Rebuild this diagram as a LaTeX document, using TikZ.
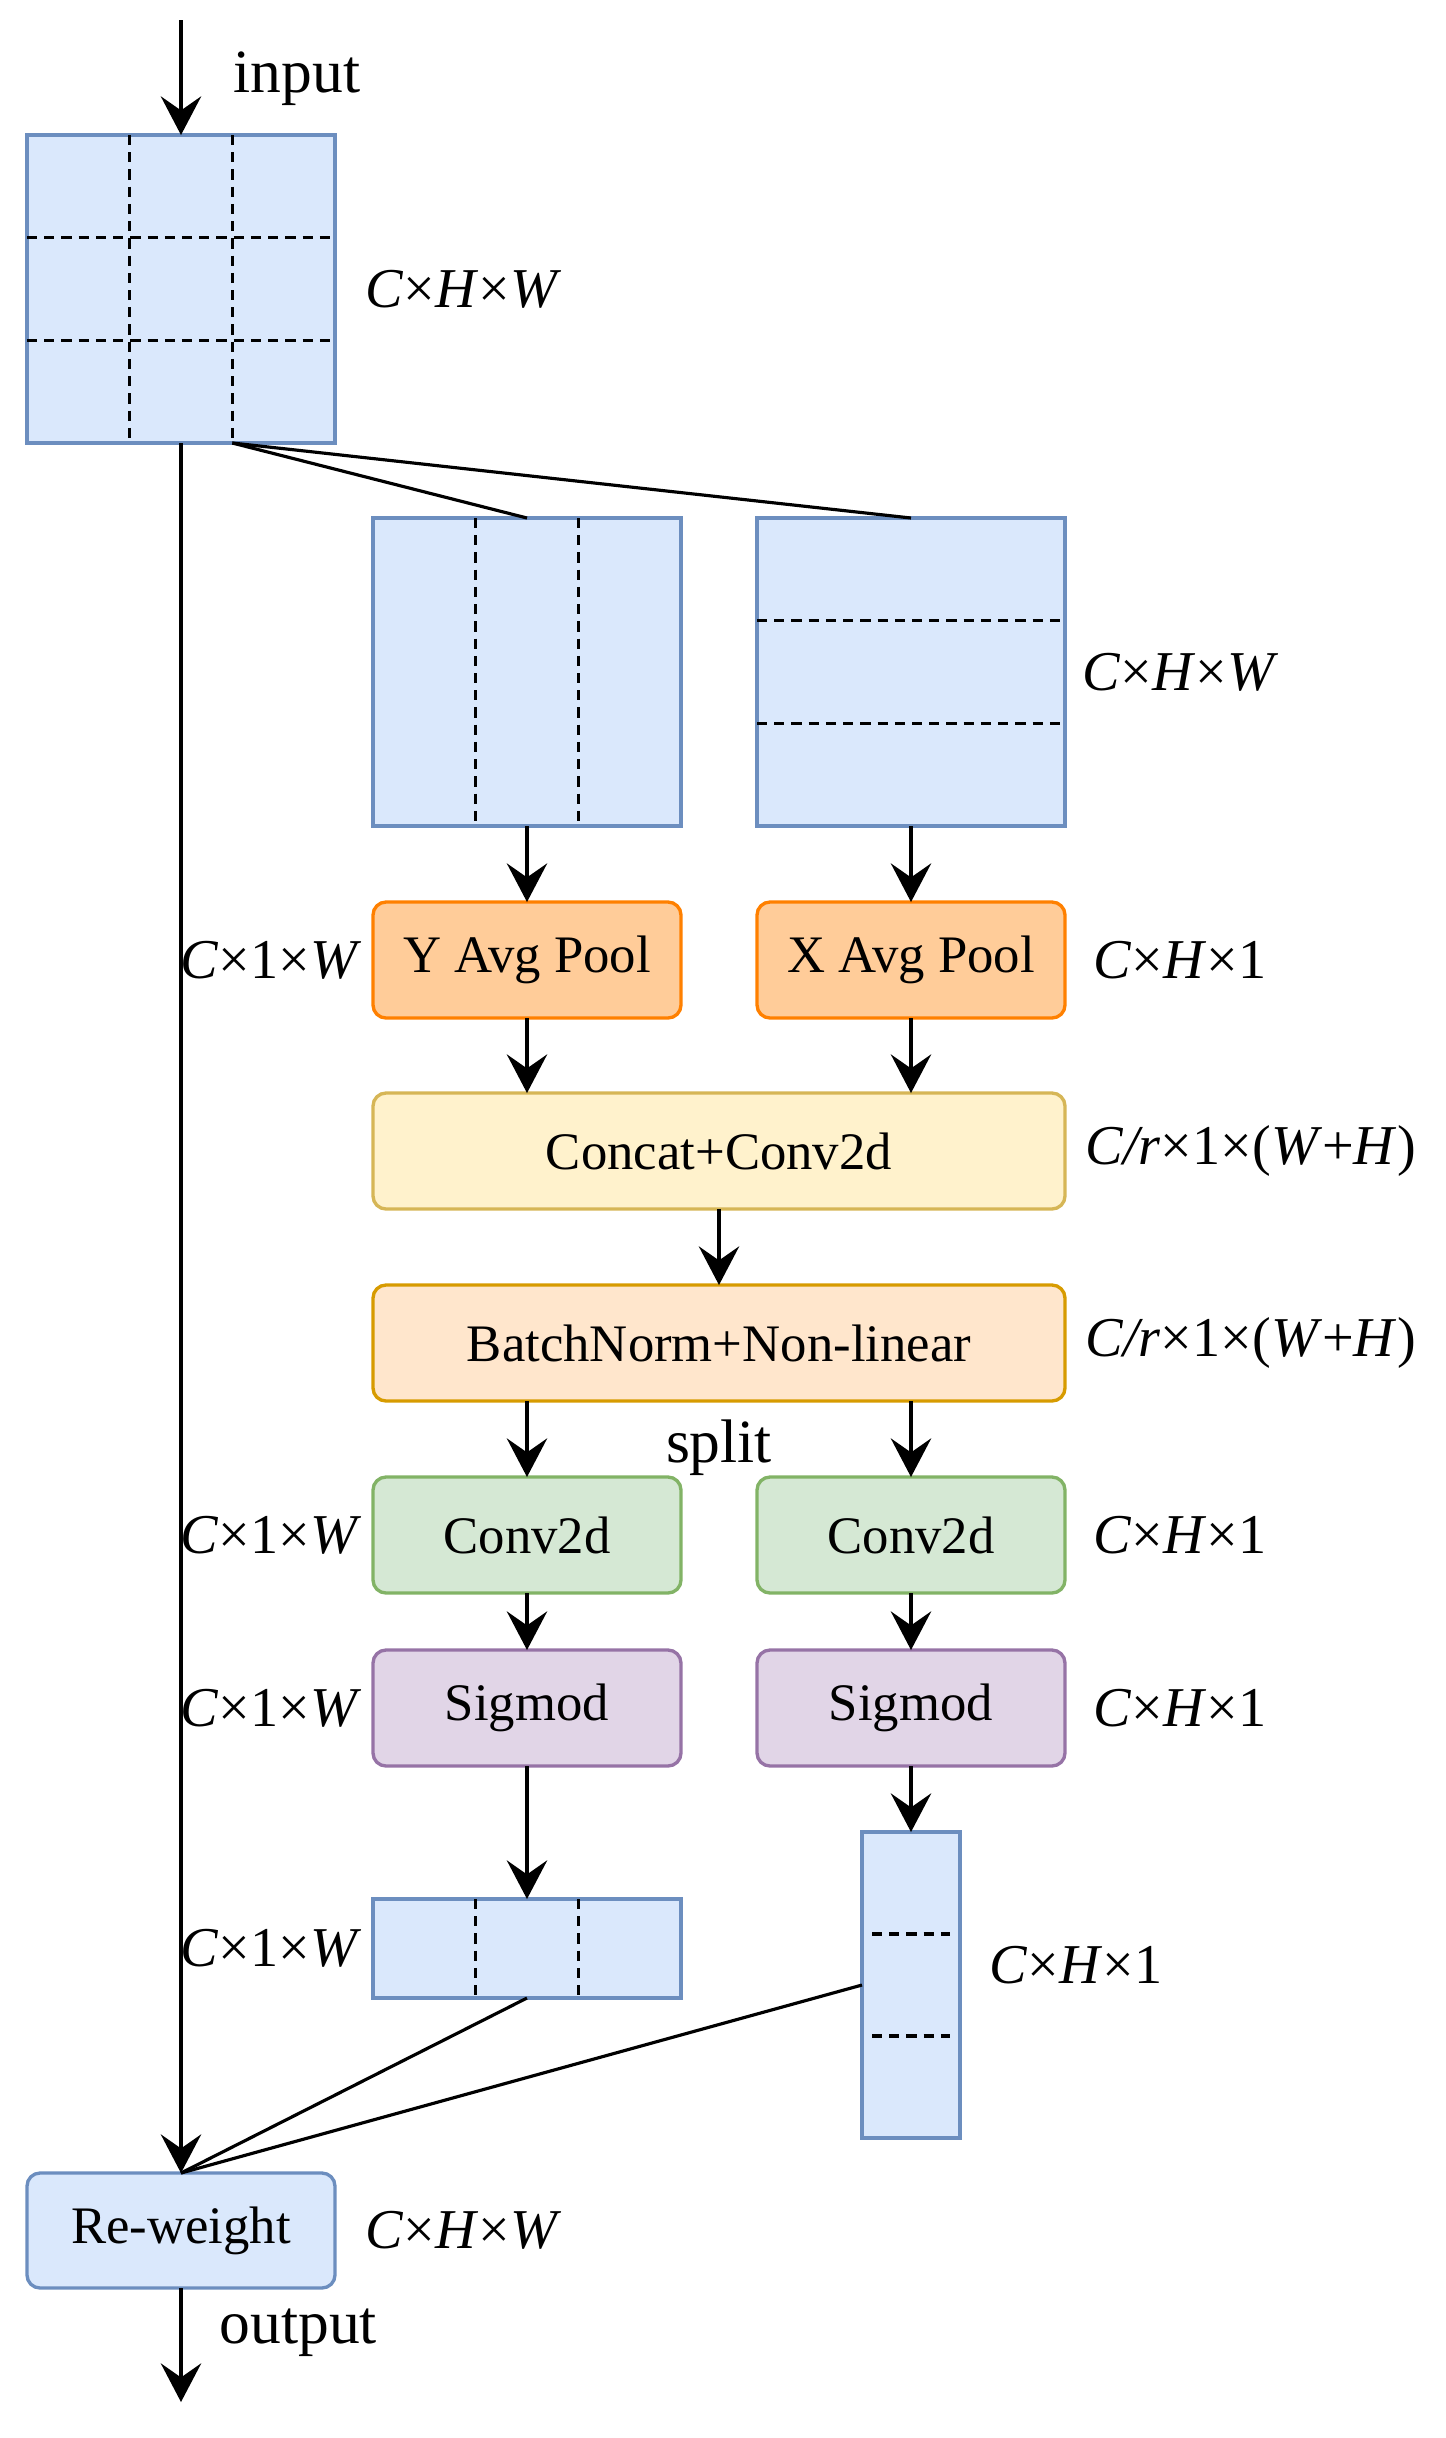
\documentclass[tikz,border=0pt]{standalone}
\usepackage{fontspec}
\setmainfont{Liberation Serif}
\usetikzlibrary{arrows.meta,positioning,calc}
\definecolor{mapfill}{HTML}{DAE8FC}
\definecolor{mapline}{HTML}{6C8EBF}
\definecolor{poolfill}{HTML}{FFCC99}
\definecolor{poolline}{HTML}{FF8000}
\definecolor{catfill}{HTML}{FFF2CC}
\definecolor{catline}{HTML}{D6B656}
\definecolor{bnfill}{HTML}{FFE6CC}
\definecolor{bnline}{HTML}{D79B00}
\definecolor{convfill}{HTML}{D5E8D4}
\definecolor{convline}{HTML}{82B366}
\definecolor{sigfill}{HTML}{E1D5E7}
\definecolor{sigline}{HTML}{9673A6}

\begin{document}
\begin{tikzpicture}[
  fmap/.style={rectangle, draw=mapline, fill=mapfill, line width=0.95pt,
               inner sep=0pt, outer sep=0pt, minimum width=3.08cm, minimum height=3.08cm},
  blk/.style={rectangle, rounded corners=0.13cm, line width=0.95pt, inner sep=0pt, outer sep=0pt,
              minimum width=3.08cm, minimum height=1.16cm, font=\fontsize{15}{18}\selectfont},
  pool/.style={blk, draw=poolline, fill=poolfill},
  cat/.style={blk, draw=catline, fill=catfill, minimum width=6.92cm},
  bn/.style={blk, draw=bnline, fill=bnfill, minimum width=6.92cm},
  conv/.style={blk, draw=convline, fill=convfill},
  sig/.style={blk, draw=sigline, fill=sigfill},
  rwblk/.style={blk, draw=mapline, fill=mapfill},
  dimlbl/.style={inner sep=0pt, font=\fontsize{16}{19}\selectfont},
  txt/.style={inner sep=0pt, font=\fontsize{17.5}{21}\selectfont},
  arr/.style={-{Stealth[length=11pt, width=11.5pt, inset=4pt]}, line width=0.9pt},
  ln/.style={line width=0.9pt},
  grid/.style={line width=1pt, dash pattern=on 2.9pt off 2pt},
  node distance=0.76cm
]
\useasboundingbox (0,0) rectangle (14.46,-24.38);

\node[fmap] (inp) at (1.81,-2.89) {};
\node[fmap, below right=0.75cm and 0.38cm of inp] (ymap) {};
\node[fmap, right=of ymap] (xmap) {};
\node[pool, below=of ymap] (yp) {Y Avg Pool};
\node[pool, below=of xmap] (xp) {X Avg Pool};
\coordinate (mid) at ($(yp.south)!0.5!(xp.south)$);
\node[cat, below=0.75cm of mid] (cat) {Concat+Conv2d};
\node[bn, below=of cat] (bn) {BatchNorm+Non-linear};
\node[conv, anchor=north] (cy) at ([yshift=-0.76cm]bn.south -| yp) {Conv2d};
\node[conv, right=of cy] (cx) {Conv2d};
\node[sig, below=0.57cm of cy] (sy) {Sigmod};
\node[sig, below=0.57cm of cx] (sx) {Sigmod};
\node[fmap, minimum height=0.99cm, below=1.33cm of sy] (yw) {};
\node[fmap, minimum width=0.98cm, minimum height=3.06cm, below=0.66cm of sx] (xw) {};
\node[rwblk, minimum height=1.15cm, below=17.3cm of inp] (rw) {Re-weight};

\foreach \k in {1,2} {
  \draw[grid] ($(inp.north west)!\k/3!(inp.north east)$) -- ($(inp.south west)!\k/3!(inp.south east)$);
  \draw[grid] ($(inp.north west)!\k/3!(inp.south west)$) -- ($(inp.north east)!\k/3!(inp.south east)$);
  \draw[grid] ($(ymap.north west)!\k/3!(ymap.north east)$) -- ($(ymap.south west)!\k/3!(ymap.south east)$);
  \draw[grid] ($(xmap.north west)!\k/3!(xmap.south west)$) -- ($(xmap.north east)!\k/3!(xmap.south east)$);
  \draw[grid] ($(yw.north west)!\k/3!(yw.north east)$) -- ($(yw.south west)!\k/3!(yw.south east)$);
  \draw[grid] ([xshift=0.1cm]$(xw.north west)!\k/3!(xw.south west)$) -- ([xshift=-0.1cm]$(xw.north east)!\k/3!(xw.south east)$);
}

\node[dimlbl, right=0.30cm of inp] {\textit{C}×\textit{H}×\textit{W}};
\node[dimlbl, right=0.17cm of xmap] {\textit{C}×\textit{H}×\textit{W}};
\node[dimlbl, left=0.11cm of yp] {\textit{C}×1×\textit{W}};
\node[dimlbl, right=0.28cm of xp] {\textit{C}×\textit{H}×1};
\node[dimlbl, right=0.20cm of cat] {\textit{C/r}×1×(\textit{W}+\textit{H})};
\node[dimlbl, right=0.20cm of bn] {\textit{C/r}×1×(\textit{W}+\textit{H})};
\node[dimlbl, left=0.11cm of cy] {\textit{C}×1×\textit{W}};
\node[dimlbl, right=0.28cm of cx] {\textit{C}×\textit{H}×1};
\node[dimlbl, left=0.11cm of sy] {\textit{C}×1×\textit{W}};
\node[dimlbl, right=0.28cm of sx] {\textit{C}×\textit{H}×1};
\node[dimlbl, left=0.11cm of yw] {\textit{C}×1×\textit{W}};
\node[dimlbl, right=0.29cm of xw, yshift=0.2cm] {\textit{C}×\textit{H}×1};
\node[dimlbl, right=0.30cm of rw] {\textit{C}×\textit{H}×\textit{W}};

\coordinate (src) at (1.81,-0.20);
\coordinate (snk) at ([yshift=-1.14cm]rw.south);
\coordinate (tap) at ($(inp.south west)!2/3!(inp.south east)$);
\node[txt, anchor=west] (inlbl) at ([xshift=0.52cm, yshift=-0.59cm]src) {input};
\node[txt, anchor=west] (outlbl) at ([xshift=0.38cm, yshift=-0.45cm]rw.south) {output};
\node[txt] (split) at ([yshift=-0.47cm]bn.south) {split};

\draw[arr](src)--(inp);
\draw[ln](tap)--(ymap.north);
\draw[ln](tap)--(xmap.north);
\draw[arr](ymap)--(yp);
\draw[arr](xmap)--(xp);
\draw[arr](yp)--(yp |- cat.north);
\draw[arr](xp)--(xp |- cat.north);
\draw[arr](cat)--(bn);
\draw[arr](bn.south -| cy)--(cy);
\draw[arr](bn.south -| cx)--(cx);
\draw[arr](cy)--(sy);
\draw[arr](cx)--(sx);
\draw[arr](sy)--(yw);
\draw[arr](sx)--(xw);
\draw[arr](inp)--(rw);
\draw[ln](yw.south)--(rw.north);
\draw[ln](xw.west)--(rw.north);
\draw[arr](rw)--(snk);
\end{tikzpicture}
\end{document}
